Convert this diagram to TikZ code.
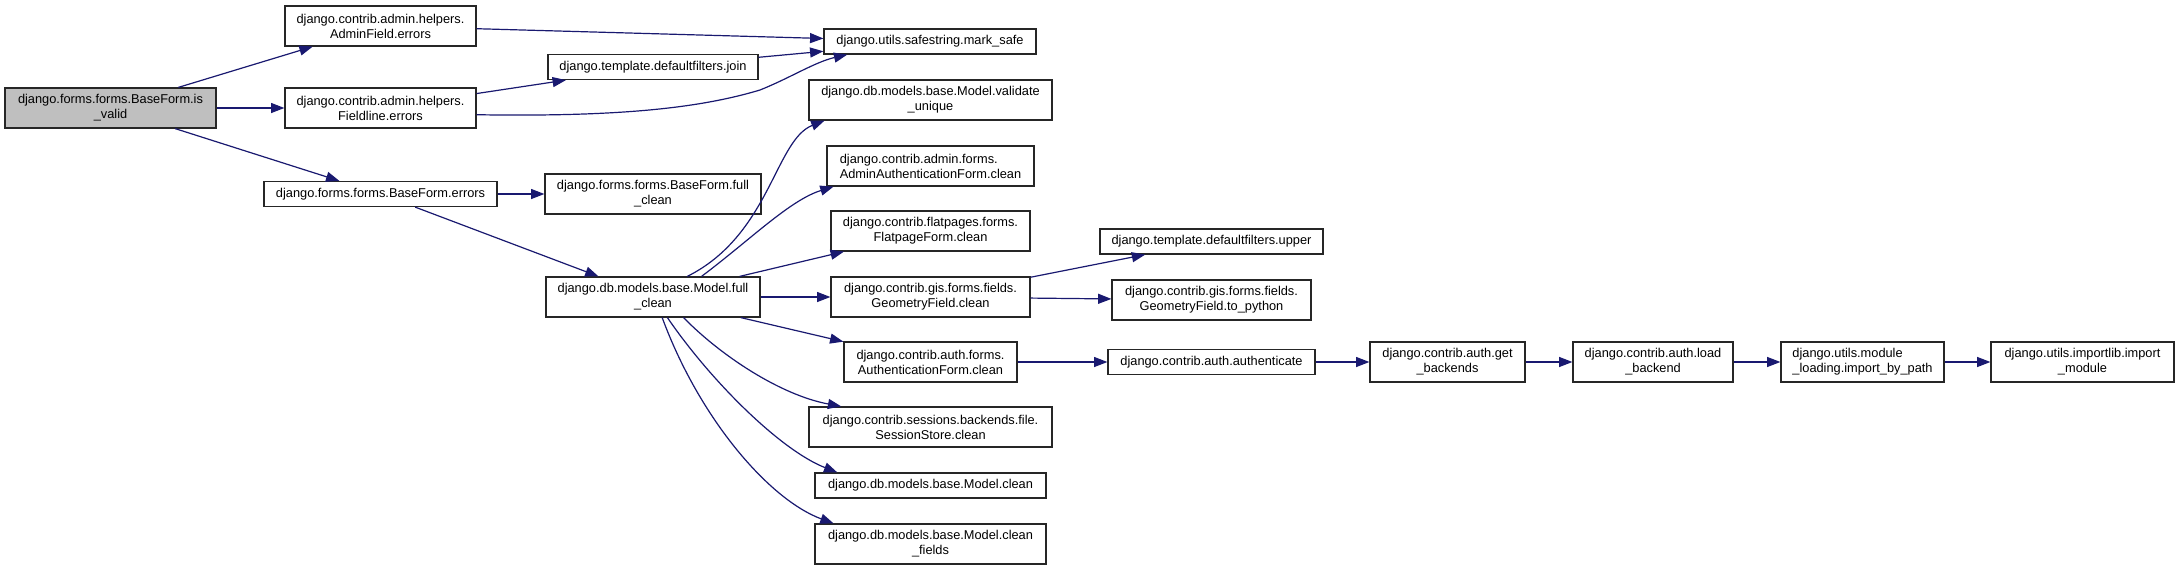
\documentclass[tikz,border=0pt]{standalone}
\usepackage{fontspec}
\setmainfont{Liberation Sans}
\usetikzlibrary{arrows.meta}
\definecolor{edgeblue}{RGB}{25,25,112}
\definecolor{startgray}{RGB}{191,191,191}

\begin{document}
\begin{tikzpicture}[
    x=0.75pt, y=-0.75pt,
    box/.style={
        rectangle,
        draw=black!85,
        line width=0.9pt,
        fill=white,
        inner sep=1pt,
        align=center,
        font=\fontsize{9.6}{11.25}\selectfont
    },
    tall/.style={minimum height=30pt},
    flat/.style={minimum height=18.75pt},
    arrow/.style={
        -{Triangle[length=10pt,width=7.5pt]},
        draw=edgeblue,
        line width=0.9pt
    }
]

\fill[white] (0,0) rectangle (2179,571);
\useasboundingbox (0,0) rectangle (2179,571);

% Start node
\node[box, tall, fill=startgray, minimum width=158.25pt] (isvalid) at (110.5,108) {django.forms.forms.BaseForm.is\\\_valid};

% First level
\node[box, tall, minimum width=143.25pt] (adminfield) at (380.5,26) {django.contrib.admin.helpers.\\AdminField.errors};
\node[box, tall, minimum width=143.25pt] (fieldline) at (380.5,108) {django.contrib.admin.helpers.\\Fieldline.errors};
\node[box, flat, minimum width=174.75pt] (baseerrors) at (380.5,194) {django.forms.forms.BaseForm.errors};

% Second level
\node[box, flat, minimum width=157.5pt] (join) at (653,67) {django.template.defaultfilters.join};
\node[box, tall, minimum width=162pt] (basefullclean) at (653,194) {django.forms.forms.BaseForm.full\\\_clean};
\node[box, tall, minimum width=160.5pt] (modelfullclean) at (653,297) {django.db.models.base.Model.full\\\_clean};

% Third level
\node[box, flat, minimum width=159pt] (marksafe) at (930,41.5) {django.utils.safestring.mark\_safe};
\node[box, tall, minimum width=182.25pt] (validateunique) at (930.5,100) {django.db.models.base.Model.validate\\\_unique};
\node[box, tall, minimum width=155.25pt, align=left] (adminauth) at (930.5,166) {django.contrib.admin.forms.\\AdminAuthenticationForm.clean};
\node[box, tall, minimum width=149.25pt] (flatpage) at (930.5,231) {django.contrib.flatpages.forms.\\FlatpageForm.clean};
\node[box, tall, minimum width=149.25pt] (geomclean) at (930.5,297) {django.contrib.gis.forms.fields.\\GeometryField.clean};
\node[box, tall, minimum width=129.75pt] (authclean) at (930.5,362) {django.contrib.auth.forms.\\AuthenticationForm.clean};
\node[box, tall, minimum width=182.25pt] (sessionstore) at (930.5,427) {django.contrib.sessions.backends.file.\\SessionStore.clean};
\node[box, flat, minimum width=173.25pt] (modelclean) at (930.5,485.5) {django.db.models.base.Model.clean};
\node[box, tall, minimum width=173.25pt] (cleanfields) at (930.5,544) {django.db.models.base.Model.clean\\\_fields};

% Fourth level and the auth chain
\node[box, flat, minimum width=167.25pt] (upper) at (1211.5,241.5) {django.template.defaultfilters.upper};
\node[box, tall, minimum width=149.25pt] (topython) at (1211.5,300) {django.contrib.gis.forms.fields.\\GeometryField.to\_python};
\node[box, flat, minimum width=155.25pt] (authenticate) at (1211.5,362) {django.contrib.auth.authenticate};
\node[box, tall, minimum width=116.25pt] (getbackends) at (1447.5,362) {django.contrib.auth.get\\\_backends};
\node[box, tall, minimum width=120pt] (loadbackend) at (1653,362) {django.contrib.auth.load\\\_backend};
\node[box, tall, minimum width=122.25pt, align=left] (importbypath) at (1862.5,362) {django.utils.module\\\_loading.import\_by\_path};
\node[box, tall, minimum width=137.25pt] (importmodule) at (2082.5,362) {django.utils.importlib.import\\\_module};

% Calls
\draw[arrow] (isvalid) -- (adminfield);
\draw[arrow] (isvalid) -- (fieldline);
\draw[arrow] (isvalid) -- (baseerrors);
\draw[arrow] (adminfield) -- (marksafe);
\draw[arrow] (fieldline) -- (join);
\draw[arrow] (fieldline.-4.8) .. controls (620,117) and (700,108) .. (760,90) .. controls (790,78) and (815,62) .. (marksafe.-171);
\draw[arrow] (join) -- (marksafe);
\draw[arrow] (baseerrors) -- (basefullclean);
\draw[arrow] (baseerrors) -- (modelfullclean);

\draw[arrow] (modelfullclean.31) .. controls (770,235) and (775,140) .. (validateunique.-169);
\draw[arrow] (modelfullclean.23) .. controls (750,240) and (790,200) .. (adminauth.-168);
\draw[arrow] (modelfullclean) -- (flatpage);
\draw[arrow] (modelfullclean) -- (geomclean);
\draw[arrow] (modelfullclean) -- (authclean);
\draw[arrow] (modelfullclean.-34) .. controls (720,355) and (780,395) .. (sessionstore.167);
\draw[arrow] (modelfullclean.-55) .. controls (710,380) and (780,450) .. (modelclean.172);
\draw[arrow] (modelfullclean.-66) .. controls (700,420) and (770,500) .. (cleanfields.168);

\draw[arrow] (geomclean) -- (upper);
\draw[arrow] (geomclean) -- (topython);
\draw[arrow] (authclean) -- (authenticate);
\draw[arrow] (authenticate) -- (getbackends);
\draw[arrow] (getbackends) -- (loadbackend);
\draw[arrow] (loadbackend) -- (importbypath);
\draw[arrow] (importbypath) -- (importmodule);

\end{tikzpicture}
\end{document}
